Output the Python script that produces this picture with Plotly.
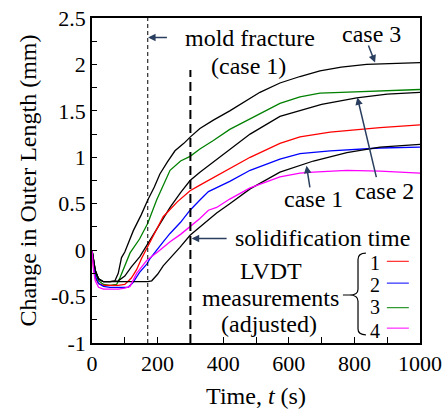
import plotly.graph_objects as go

# ---- data ----
case3_t = [0, 5, 10, 20, 35, 55, 70, 80, 90, 100, 126, 150, 170, 190, 207, 230, 253, 280, 300, 329, 370, 420, 482, 512, 573, 634, 695, 760, 837, 900, 1000]
case3_y = [0, -0.12, -0.22, -0.31, -0.34, -0.34, -0.33, -0.25, -0.08, -0.02, 0.21, 0.38, 0.54, 0.68, 0.82, 0.95, 1.07, 1.15, 1.22, 1.31, 1.40, 1.50, 1.64, 1.70, 1.80, 1.87, 1.93, 1.97, 2.00, 2.01, 2.02]

green_t = [0, 5, 10, 20, 35, 55, 75, 85, 100, 116, 145, 170, 197, 238, 270, 299, 329, 370, 420, 482, 540, 573, 634, 695, 760, 830, 900, 1000]
green_y = [0, -0.15, -0.25, -0.33, -0.37, -0.38, -0.37, -0.30, -0.16, -0.03, 0.12, 0.29, 0.54, 0.86, 0.96, 1.01, 1.09, 1.18, 1.30, 1.41, 1.52, 1.58, 1.65, 1.69, 1.70, 1.71, 1.72, 1.73]

case2_t = [0, 5, 10, 20, 35, 55, 80, 100, 120, 146, 170, 200, 238, 270, 299, 329, 355, 420, 482, 573, 634, 700, 807, 900, 1000]
case2_y = [0, -0.12, -0.22, -0.31, -0.34, -0.34, -0.33, -0.28, -0.18, -0.07, 0.07, 0.25, 0.46, 0.62, 0.75, 0.84, 0.91, 1.08, 1.25, 1.44, 1.50, 1.57, 1.64, 1.68, 1.70]

red_t = [0, 5, 10, 20, 35, 55, 80, 100, 120, 136, 151, 170, 217, 260, 299, 329, 355, 420, 482, 573, 634, 726, 878, 1000]
red_y = [0, -0.20, -0.30, -0.36, -0.38, -0.38, -0.38, -0.37, -0.30, -0.21, -0.09, 0.04, 0.36, 0.52, 0.64, 0.70, 0.75, 0.88, 1.00, 1.15, 1.22, 1.27, 1.32, 1.35]

blue_t = [0, 5, 10, 20, 35, 55, 80, 110, 125, 145, 167, 177, 217, 238, 270, 299, 329, 355, 420, 482, 573, 634, 726, 878, 1000]
blue_y = [0, -0.15, -0.28, -0.36, -0.39, -0.40, -0.40, -0.40, -0.35, -0.24, -0.15, -0.09, 0.09, 0.18, 0.30, 0.43, 0.54, 0.63, 0.74, 0.86, 0.98, 1.04, 1.07, 1.10, 1.11]

magenta_t = [0, 5, 10, 20, 35, 55, 80, 100, 116, 136, 167, 200, 238, 270, 299, 329, 355, 380, 420, 482, 573, 634, 675, 777, 878, 1000]
magenta_y = [0, -0.22, -0.33, -0.40, -0.42, -0.42, -0.42, -0.41, -0.39, -0.25, -0.11, -0.02, 0.09, 0.17, 0.25, 0.34, 0.43, 0.46, 0.55, 0.67, 0.79, 0.83, 0.84, 0.86, 0.85, 0.83]

case1_t = [0, 5, 10, 20, 35, 55, 80, 110, 140, 170, 182, 200, 217, 238, 268, 299, 330, 355, 380, 420, 482, 573, 634, 675, 777, 878, 1000]
case1_y = [0, -0.12, -0.22, -0.31, -0.34, -0.34, -0.34, -0.34, -0.34, -0.34, -0.33, -0.26, -0.17, -0.09, 0.03, 0.16, 0.25, 0.32, 0.40, 0.50, 0.66, 0.84, 0.91, 0.96, 1.05, 1.11, 1.14]

x_tickvals = [0, 100, 200, 300, 400, 500, 600, 700, 800, 900, 1000]
x_ticktext = ["0", "", "200", "", "400", "", "600", "", "800", "", "1000"]
y_tickvals = [-1, -0.75, -0.5, -0.25, 0, 0.25, 0.5, 0.75, 1, 1.25, 1.5, 1.75, 2, 2.25, 2.5]
y_ticktext = ["-1", "", "-0.5", "", "0", "", "0.5", "", "1", "", "1.5", "", "2", "", "2.5"]

mold_fracture_t = 170
solidification_t = 300

legend_labels = ["1", "2", "3", "4"]
legend_colors = ["#ff0000", "#0000ff", "#008000", "#ff00ff"]
legend_y = [-0.12, -0.355, -0.62, -0.84]
legend_label_y = [-0.135, -0.375, -0.615, -0.875]

FONT = "Liberation Serif"
FS = 24
TFS = 22

fig = go.Figure()
series = [
    (case3_t, case3_y, "black"),
    (green_t, green_y, "#008000"),
    (case2_t, case2_y, "black"),
    (red_t, red_y, "#ff0000"),
    (blue_t, blue_y, "#0000ff"),
    (case1_t, case1_y, "black"),
    (magenta_t, magenta_y, "#ff00ff"),
]
for t, y, c in series:
    fig.add_trace(go.Scatter(x=t, y=y, mode="lines", line=dict(color=c, width=1.3),
                             showlegend=False, hoverinfo="skip"))

shapes = [
    dict(type="line", xref="x", yref="paper", x0=mold_fracture_t, x1=mold_fracture_t, y0=0, y1=1,
         line=dict(color="black", width=1, dash="4px,3px")),
    dict(type="line", xref="x", yref="y", x0=solidification_t, x1=solidification_t, y0=-1, y1=1.94,
         line=dict(color="black", width=2, dash="9px,5px")),
    dict(type="path", xref="x", yref="y",
         path="M 835,-0.032 Q 811,-0.032 811,-0.10 L 811,-0.42 Q 811,-0.483 785,-0.483 L 765,-0.483 "
              "M 785,-0.483 Q 811,-0.483 811,-0.55 L 811,-0.85 Q 811,-0.912 835,-0.912",
         line=dict(color="black", width=1.2)),
]
for c, ly in zip(legend_colors, legend_y):
    shapes.append(dict(type="line", xref="x", yref="y", x0=899, x1=966, y0=ly, y1=ly,
                       line=dict(color=c, width=1)))

font = dict(family=FONT, size=FS, color="black")
annotations = [
    dict(x=482, y=2.29, text="mold fracture", showarrow=False),
    dict(x=476, y=1.98, text="(case 1)", showarrow=False),
    dict(x=171, y=2.29, ax=233, ay=2.29, axref="x", ayref="y", text="", showarrow=True,
         arrowhead=2, arrowsize=1, arrowwidth=1.5),
    dict(x=851, y=2.33, text="case 3", showarrow=False),
    dict(x=863, y=2.02, ax=841, ay=2.22, axref="x", ayref="y", text="", showarrow=True,
         arrowhead=2, arrowsize=1, arrowwidth=1.5),
    dict(x=893, y=0.64, text="case 2", showarrow=False),
    dict(x=809, y=1.645, ax=868, ay=0.77, axref="x", ayref="y", text="", showarrow=True,
         arrowhead=2, arrowsize=1, arrowwidth=1.5),
    dict(x=675, y=0.555, text="case 1", showarrow=False),
    dict(x=654, y=0.91, ax=665, ay=0.66, axref="x", ayref="y", text="", showarrow=True,
         arrowhead=2, arrowsize=1, arrowwidth=1.5),
    dict(x=704, y=0.13, text="solidification time", showarrow=False),
    dict(x=304, y=0.125, ax=415, ay=0.125, axref="x", ayref="y", text="", showarrow=True,
         arrowhead=2, arrowsize=1, arrowwidth=1.5),
    dict(x=545, y=-0.22, text="LVDT", showarrow=False),
    dict(x=543, y=-0.52, text="measurements", showarrow=False),
    dict(x=540, y=-0.80, text="(adjusted)", showarrow=False),
]
for a in annotations:
    a["font"] = font
for lab, ly in zip(legend_labels, legend_label_y):
    annotations.append(dict(x=863, y=ly, text=lab, showarrow=False,
                            font=dict(family=FONT, size=20, color="black")))

tickfont = dict(family=FONT, size=TFS, color="black")

fig.update_layout(
    width=443, height=409,
    margin=dict(l=92, r=23, t=18, b=66, autoexpand=False),
    plot_bgcolor="white", paper_bgcolor="white",
    font=dict(family=FONT, size=FS, color="black"),
    shapes=shapes, annotations=annotations,
    xaxis=dict(range=[0, 1000], tickvals=x_tickvals, ticktext=x_ticktext,
               ticks="inside", ticklen=6, tickwidth=1, tickcolor="black",
               showline=True, linecolor="black", linewidth=1.5, mirror=True,
               showgrid=False, zeroline=False, automargin=False,
               ticklabeloverflow="allow",
               title=dict(text="Time, <i>t</i> (s)", font=font, standoff=12),
               tickfont=tickfont),
    yaxis=dict(range=[-1, 2.5], tickvals=y_tickvals, ticktext=y_ticktext,
               ticks="inside", ticklen=5, tickwidth=1, tickcolor="black",
               showline=True, linecolor="black", linewidth=1.5, mirror=True,
               showgrid=False, zeroline=False, automargin=False,
               ticklabeloverflow="allow",
               title=dict(text="Change in Outer Length (mm)", font=font, standoff=8),
               tickfont=tickfont),
)

# remove the browser's default 8px body margin so the figure fills the window exactly
fig.write_html("out.html",
               config={"displayModeBar": False},
               post_script="document.body.style.margin='0';document.body.style.overflow='hidden';")
